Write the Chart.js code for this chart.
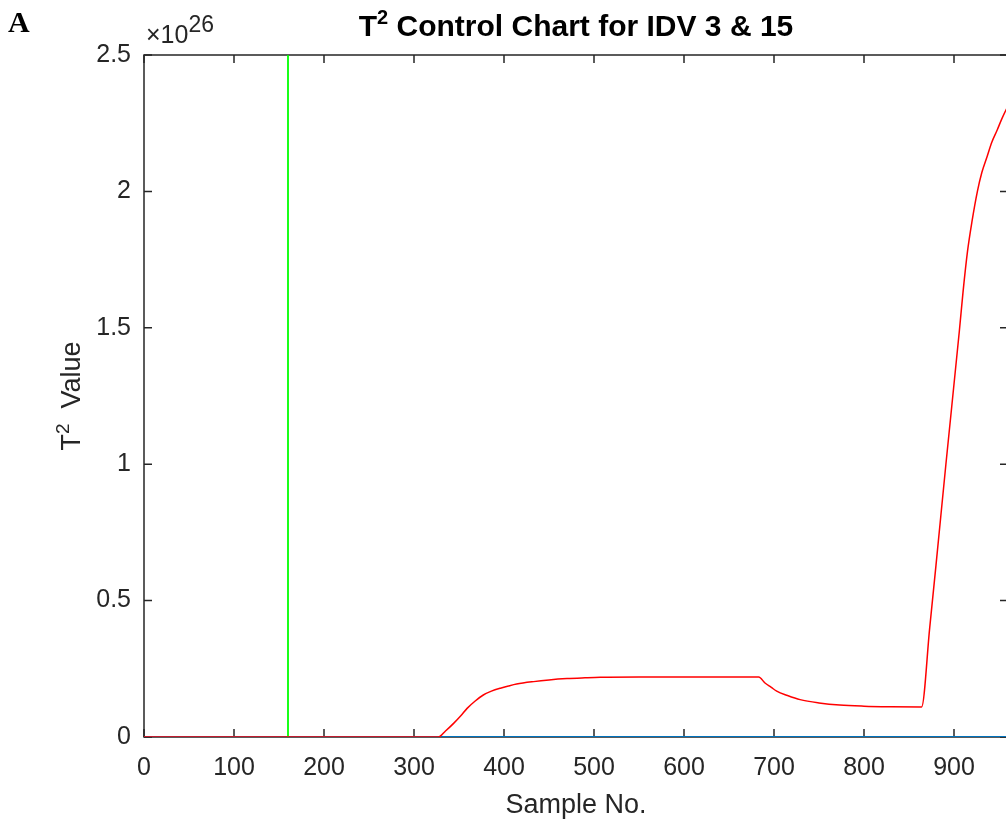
<!DOCTYPE html>
<html>
<head>
<meta charset="utf-8">
<title>T2 Control Chart for IDV 3 &amp; 15</title>
<script src="https://cdn.jsdelivr.net/npm/chart.js@4/dist/chart.umd.min.js"></script>
<style>
  html, body { margin: 0; padding: 0; background: #fff; overflow: hidden; }
  #wrap { width: 1010px; height: 826px; }
</style>
</head>
<body>
<div id="wrap"><canvas id="t2Chart" width="1010" height="826"></canvas></div>
<script>
(function () {
  'use strict';

  // ----- Data (values in units of 10^26) -----
  const EXPONENT = 26;
  const FAULT_SAMPLE = 160;            // green marker: fault introduced
  const X_TICKS = [0, 100, 200, 300, 400, 500, 600, 700, 800, 900];
  const Y_TICKS = [0, 0.5, 1, 1.5, 2, 2.5];
  const Y_TICK_LABELS = ['0', '0.5', '1', '1.5', '2', '2.5'];

  // T^2 statistic
  const t2Samples = [
    0, 327, 335, 344, 352, 359, 368, 377, 386, 396, 405, 414, 433, 450, 470, 490, 507,
    550, 600, 650, 683, 690, 697, 703, 715, 729, 750, 773, 800, 830, 864,
    873, 880, 891, 906, 910, 915, 920, 926, 931, 937, 942, 948, 953, 958, 960
  ];
  const t2Values = [
    0, 0, 0.022, 0.05, 0.078, 0.105, 0.132, 0.154, 0.168, 0.179, 0.187, 0.194, 0.203, 0.209, 0.214, 0.217, 0.219,
    0.22, 0.22, 0.22, 0.22, 0.198, 0.182, 0.168, 0.152, 0.137, 0.125, 0.117, 0.113, 0.111, 0.11,
    0.40, 0.63, 1.0, 1.49, 1.63, 1.78, 1.89, 2.0, 2.07, 2.13, 2.18, 2.225, 2.265, 2.30, 2.31
  ];

  // Control limit (tiny on this scale)
  const limitSamples = [0, 960];
  const limitValues = [0, 0];

  // Fault marker
  const faultSamples = [FAULT_SAMPLE, FAULT_SAMPLE];
  const faultValues = [0, 2.5];

  function pts(xs, ys) {
    return xs.map(function (x, i) { return { x: x, y: ys[i] }; });
  }

  const AXIS = '#262626';
  const FONT = '"Liberation Sans", Arial, Helvetica, sans-serif';

  // Draws "T" + superscript "2" + rest, starting at x on baseline y.
  function drawSupText(ctx, x, y, bigFont, smallFont, rise, rest) {
    ctx.font = bigFont;
    const wT = ctx.measureText('T').width;
    ctx.fillText('T', x, y);
    ctx.font = smallFont;
    const w2 = ctx.measureText('2').width;
    ctx.fillText('2', x + wT, y - rise);
    ctx.font = bigFont;
    ctx.fillText(rest, x + wT + w2, y);
  }
  function supWidth(ctx, bigFont, smallFont, rest) {
    ctx.font = bigFont;
    const a = ctx.measureText('T').width + ctx.measureText(rest).width;
    ctx.font = smallFont;
    return a + ctx.measureText('2').width;
  }

  // ----- MATLAB-style box with inward ticks, drawn under the data -----
  const boxPlugin = {
    id: 'matlabBox',
    beforeDatasetsDraw: function (chart) {
      const a = chart.chartArea;
      const xs = chart.scales.x, ys = chart.scales.y;
      const ctx = chart.ctx;
      const TL = 8;
      ctx.save();
      ctx.strokeStyle = AXIS;
      ctx.lineWidth = 1.5;
      ctx.strokeRect(a.left, a.top, a.right - a.left, a.bottom - a.top);
      ctx.beginPath();
      X_TICKS.forEach(function (v) {
        const px = xs.getPixelForValue(v);
        ctx.moveTo(px, a.bottom); ctx.lineTo(px, a.bottom - TL);
        ctx.moveTo(px, a.top); ctx.lineTo(px, a.top + TL);
      });
      Y_TICKS.forEach(function (v) {
        const py = ys.getPixelForValue(v);
        ctx.moveTo(a.left, py); ctx.lineTo(a.left + TL, py);
        ctx.moveTo(a.right, py); ctx.lineTo(a.right - TL, py);
      });
      ctx.stroke();
      ctx.restore();
    },
    afterDraw: function (chart) {
      const a = chart.chartArea;
      const ctx = chart.ctx;
      ctx.save();
      ctx.textBaseline = 'alphabetic';
      ctx.textAlign = 'left';

      // Title with superscript 2
      const big = 'bold 30px ' + FONT, small = 'bold 20px ' + FONT;
      const rest = ' Control Chart for IDV 3 & 15';
      const tw = supWidth(ctx, big, small, rest);
      ctx.fillStyle = '#000';
      drawSupText(ctx, (a.left + a.right) / 2 - tw / 2, 36, big, small, 12, rest);

      // Y axis title, rotated
      const yb = '27px ' + FONT, ys = '19px ' + FONT;
      const yrest = '  Value';
      const yw = supWidth(ctx, yb, ys, yrest);
      ctx.fillStyle = AXIS;
      ctx.translate(80, (a.top + a.bottom) / 2);
      ctx.rotate(-Math.PI / 2);
      drawSupText(ctx, -yw / 2, 0, yb, ys, 11, yrest);
      ctx.setTransform(1, 0, 0, 1, 0, 0);

      // Exponent label
      ctx.font = '25px ' + FONT;
      ctx.fillText('\u00d710', 146, 43);
      const wx = ctx.measureText('\u00d710').width;
      ctx.font = '23px ' + FONT;
      ctx.fillText(String(EXPONENT), 146 + wx, 32);

      // Panel letter
      ctx.fillStyle = '#000';
      ctx.font = 'bold 30px "Liberation Serif", "Times New Roman", serif';
      ctx.fillText('A', 8, 32);
      ctx.restore();
    }
  };

  const tickFont = { family: FONT, size: 25 };

  new Chart(document.getElementById('t2Chart').getContext('2d'), {
    type: 'line',
    data: {
      datasets: [
        {
          label: 'T2',
          data: pts(t2Samples, t2Values),
          borderColor: '#ff0000',
          borderWidth: 1.5,
          pointRadius: 0,
          cubicInterpolationMode: 'monotone',
          fill: false
        },
        {
          label: 'Fault',
          data: pts(faultSamples, faultValues),
          borderColor: '#00ff00',
          borderWidth: 1.8,
          pointRadius: 0,
          fill: false
        },
        {
          label: 'Limit',
          data: pts(limitSamples, limitValues),
          borderColor: '#0072bd',
          borderWidth: 2.2,
          pointRadius: 0,
          fill: false
        }
      ]
    },
    plugins: [boxPlugin],
    options: {
      responsive: false,
      animation: false,
      layout: { padding: { top: 55, right: 2, bottom: 0, left: 0 } },
      plugins: { legend: { display: false }, tooltip: { enabled: false } },
      scales: {
        x: {
          type: 'linear',
          min: 0,
          max: 960,
          afterBuildTicks: function (s) { s.ticks = X_TICKS.map(function (v) { return { value: v }; }); },
          afterFit: function (s) { s.height = 89; },
          grid: { display: false, drawTicks: false },
          border: { display: false },
          ticks: { color: AXIS, font: tickFont, padding: 16, maxRotation: 0 },
          title: {
            display: true,
            text: 'Sample No.',
            color: AXIS,
            font: { family: FONT, size: 27 },
            padding: { top: 4, bottom: 4 }
          }
        },
        y: {
          type: 'linear',
          min: 0,
          max: 2.5,
          afterBuildTicks: function (s) { s.ticks = Y_TICKS.map(function (v) { return { value: v }; }); },
          afterFit: function (s) { s.width = 144; },
          grid: { display: false, drawTicks: false },
          border: { display: false },
          ticks: {
            color: AXIS,
            font: tickFont,
            padding: 13,
            callback: function (v) { return Y_TICK_LABELS[Y_TICKS.indexOf(v)]; }
          }
        }
      }
    }
  });
})();
</script>
</body>
</html>
